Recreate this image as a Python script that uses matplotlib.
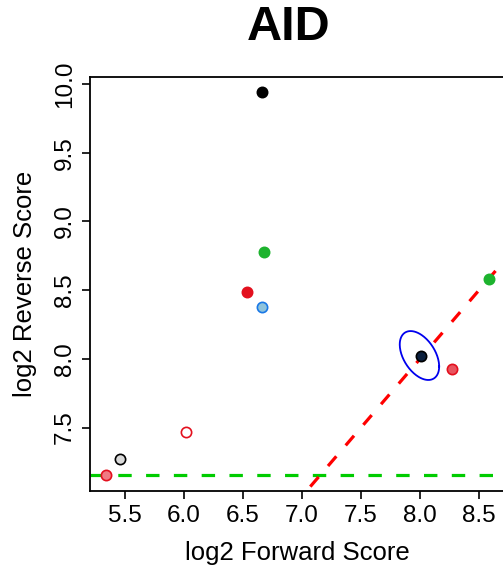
import numpy as np
import matplotlib
matplotlib.use("Agg")
import matplotlib.pyplot as plt

plt.rcParams["font.family"] = ["Liberation Sans", "DejaVu Sans"]

# points: log2 forward / reverse scores
fwd = [6.664, 6.680, 6.537, 6.664, 8.006, 5.340, 5.458, 6.020, 8.275, 8.588]
rev = [9.940, 8.777, 8.484, 8.377, 8.022, 7.152, 7.269, 7.465, 7.928, 8.579]
face = ["#000000", "#1db32e", "#e3101e", "#8ec3dc", "#0b1f3d",
        "#f07a82", "#d9d9d9", "#ffffff", "#e8545e", "#1db32e"]
edge = ["#000000", "#1db32e", "#e3101e", "#1a78e6", "#000000",
        "#e3101e", "#000000", "#e3101e", "#e3101e", "#1db32e"]

# error ellipse around the reference point
ell_center = (7.995, 8.024)
ell_sx, ell_sy, ell_rho = 0.167, 0.178, -0.45

baseline = 7.152  # green dashed threshold
x_ticks = [5.5, 6.0, 6.5, 7.0, 7.5, 8.0, 8.5]
y_ticks = [7.5, 8.0, 8.5, 9.0, 9.5, 10.0]

fig = plt.figure(figsize=(5.03, 5.68), dpi=100)
ax = fig.add_axes([90 / 503, 77 / 568, 415 / 503, 414 / 568])

ax.axhline(baseline, color="#00cc00", lw=2.3, dashes=(4.2, 4.5), zorder=1)
xl = np.array([5.0, 9.0])
ax.plot(xl, xl, color="#ff0000", lw=2.3, dashes=(4.0, 4.5), zorder=1)

for x, y, fc, ec in zip(fwd, rev, face, edge):
    ax.plot(x, y, "o", ms=7.4, mfc=fc, mec=ec, mew=1.2, zorder=3)

t = np.linspace(0, 2 * np.pi, 200)
phi = np.arccos(ell_rho)
ax.plot(ell_center[0] + ell_sx * np.cos(t),
        ell_center[1] + ell_sy * np.cos(t + phi),
        color="#0000ee", lw=1.3, zorder=2)

ax.set_xlim(5.203, 8.72)
ax.set_ylim(7.038, 10.051)
ax.set_xticks(x_ticks)
ax.set_yticks(y_ticks)
ax.set_xticklabels([f"{v:.1f}" for v in x_ticks])
ax.set_yticklabels([f"{v:.1f}" for v in y_ticks], rotation=90, va="center")
ax.tick_params(labelsize=17.5, length=6, width=1.2, pad=4, colors="black")
for s in ax.spines.values():
    s.set_linewidth(1.3)

ax.set_xlabel("log2 Forward Score", fontsize=18.5, labelpad=10)
ax.set_ylabel("log2 Reverse Score", fontsize=18.5, labelpad=12)
fig.text(289 / 503, 1 - 27 / 568, "AID", fontsize=35, fontweight="bold",
         ha="center", va="center")

fig.savefig("out.png", dpi=100)
